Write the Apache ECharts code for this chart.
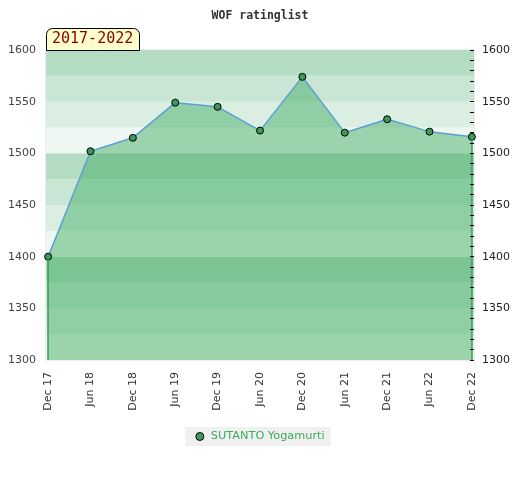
<!DOCTYPE html>
<html>
<head>
<meta charset="utf-8">
<script src="https://cdn.jsdelivr.net/npm/echarts@6/dist/echarts.min.js"></script>
<style>html,body{margin:0;padding:0;background:#fff}#c{width:520px;height:480px}</style>
</head>
<body>
<div id="c"></div>
<script>
var categories = ['Dec 17','Jun 18','Dec 18','Jun 19','Dec 19','Jun 20','Dec 20','Jun 21','Dec 21','Jun 22','Dec 22'];
var ratings = [1400, 1502, 1515, 1549, 1545, 1522, 1574, 1520, 1533, 1521, 1516];
var playerName = 'SUTANTO Yogamurti';
var periodLabel = '2017-2022';
var chartTitle = 'WOF ratinglist';
var yMin = 1300, yMax = 1600, yStep = 50, bandStep = 25;

var bandColors = ['#eef7f1', '#dbeee2', '#c8e6d3', '#b3dcc2'];

var bands = [];
for (var v = yMin, i = 0; v < yMax; v += bandStep, i++) {
  bands.push([{ yAxis: v, itemStyle: { color: bandColors[i % 4] } }, { yAxis: v + bandStep }]);
}
var points = ratings.map(function (r, i) { return [i, r]; });
var last = ratings.length - 1;

var chart = echarts.init(document.getElementById('c'));
chart.setOption({
  animation: false,
  title: [
    { text: chartTitle, left: 'center', top: 5,
      textStyle: { fontFamily: 'DejaVu Sans Mono', fontSize: 11.5, fontWeight: 'bold', color: '#333' } },
    { text: periodLabel, left: 46, top: 28,
      backgroundColor: '#ffffcc', borderColor: '#000', borderWidth: 1,
      borderRadius: [6, 6, 0, 0], padding: [4, 6, 4, 6],
      textStyle: { fontFamily: 'DejaVu Sans Mono', fontSize: 15, fontWeight: 'normal', color: '#8b0000' } }
  ],
  legend: {
    bottom: 34, left: 'center',
    backgroundColor: '#f0f0f0', padding: [4, 6, 4, 10],
    itemWidth: 8, itemHeight: 8, itemGap: 10,
    textStyle: { color: '#3aaa5a', fontFamily: 'DejaVu Sans', fontSize: 11.3, padding: [0, 0, 0, 2] },
    data: [{ name: playerName, icon: 'circle', itemStyle: { color: '#3a9a5a', borderColor: '#000', borderWidth: 1 } }]
  },
  grid: { left: 46, right: 46, top: 50, bottom: 120, show: true, borderColor: '#dddddd', borderWidth: 1, containLabel: false },
  xAxis: {
    type: 'value', min: -0.05, max: last + 0.05,
    splitLine: { show: false }, axisLine: { show: false }, axisTick: { show: false },
    axisLabel: {
      customValues: categories.map(function (c, i) { return i; }),
      rotate: 90, color: '#333', fontFamily: 'DejaVu Sans', fontSize: 11, margin: 12,
      formatter: function (val) { return categories[Math.round(val)]; }
    }
  },
  yAxis: [
    { type: 'value', min: yMin, max: yMax, interval: yStep, position: 'left',
      splitLine: { show: false }, axisLine: { show: false }, axisTick: { show: false },
      axisLabel: { color: '#444', fontFamily: 'DejaVu Sans', fontSize: 11, margin: 10,
        formatter: function (v) { return String(v); } } },
    { type: 'value', min: yMin, max: yMax, interval: yStep, position: 'right', z: 10,
      splitLine: { show: false }, axisLine: { show: false },
      axisTick: { show: true, inside: true, length: 4, lineStyle: { color: '#000', width: 1 } },
      minorTick: { show: true, splitNumber: 5, length: 4, lineStyle: { color: '#000', width: 1 } },
      axisLabel: { color: '#222', fontFamily: 'DejaVu Sans', fontSize: 11, margin: 8,
        formatter: function (v) { return String(v); } } }
  ],
  series: [
    { type: 'line', name: 'bands', data: [], z: 0, silent: true,
      markArea: { silent: true, data: bands } },
    { type: 'line', name: playerName, data: points, z: 3,
      symbol: 'circle', symbolSize: 7,
      itemStyle: { color: '#3a9a5a', borderColor: '#000', borderWidth: 1 },
      lineStyle: { color: '#5b9fd6', width: 1.5 },
      areaStyle: { color: 'rgba(62,169,96,0.47)', opacity: 1, origin: 'start' },
      markLine: {
        silent: true, symbol: 'none', label: { show: false },
        lineStyle: { color: '#2e9e50', width: 1.5, type: 'solid' },
        data: [
          [{ coord: [0, ratings[0]] }, { coord: [0, yMin] }],
          [{ coord: [last, ratings[last]] }, { coord: [last, yMin] }]
        ]
      }
    }
  ]
});
</script>
</body>
</html>
